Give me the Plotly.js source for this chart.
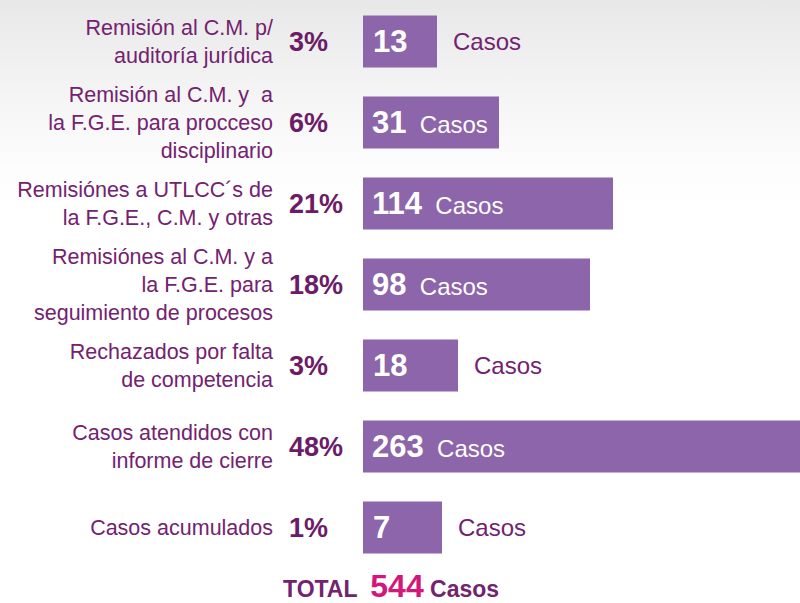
<!DOCTYPE html>
<html>
<head>
<meta charset="utf-8">
<script src="https://cdn.plot.ly/plotly-3.0.1.min.js"></script>
<style>
  html, body { margin:0; padding:0; }
  body { width:800px; height:603px; overflow:hidden;
         background: linear-gradient(to bottom, #e8e8e8 0px, #f4f4f4 90px, #fdfdfd 170px, #ffffff 220px, #ffffff 603px); }
  #chart { width:800px; height:603px; }
</style>
</head>
<body>
<div id="chart"></div>
<script>
// ---- data ----
const categorias = [
  "Remisión al C.M. p/<br>auditoría jurídica",
  "Remisión al C.M. y  a<br>la F.G.E. para procceso<br>disciplinario",
  "Remisiónes a UTLCC´s de<br>la F.G.E., C.M. y otras",
  "Remisiónes al C.M. y a<br>la F.G.E. para<br>seguimiento de procesos",
  "Rechazados por falta<br>de competencia",
  "Casos atendidos con<br>informe de cierre",
  "Casos acumulados"
];
const casos = [13, 31, 114, 98, 18, 263, 7];
const porcentajes = [3, 6, 21, 18, 3, 48, 1];
// drawn bar lengths as they appear in the infographic (not proportional to casos)
const longitudBarra = [74, 136, 250, 227, 95, 460, 79];

// ---- styles ----
const FONT = '"Liberation Sans", Arial, sans-serif';
const barColor = '#8c65aa';
const purple = '#732270';
const purpleDark = '#6c1b66';
const pink = '#d4187b';

const trace = {
  type: 'bar',
  orientation: 'h',
  y: categorias,
  x: longitudBarra,
  marker: { color: barColor, line: { width: 0 } },
  width: 0.64,
  hoverinfo: 'skip',
  cliponaxis: true
};

const annotations = [];
categorias.forEach((c, i) => {
  annotations.push({
    xref: 'paper', yref: 'y', x: 287 / 800, y: c,
    xanchor: 'left', yanchor: 'middle',
    text: '<b>' + porcentajes[i] + '%</b>',
    showarrow: false,
    font: { family: FONT, size: 27, color: purpleDark }
  });
  const inside = longitudBarra[i] > 120;
  if (inside) {
    annotations.push({
      xref: 'x', yref: 'y', x: 0, y: c, xanchor: 'left', yanchor: 'middle', xshift: 7,
      text: '<span style="font-size:31px;font-weight:bold">' + casos[i] + '</span>\u00a0\u00a0Casos',
      showarrow: false,
      font: { family: FONT, size: 24, color: '#ffffff' }
    });
  } else {
    annotations.push({
      xref: 'x', yref: 'y', x: 0, y: c, xanchor: 'left', yanchor: 'middle', xshift: 8,
      text: '<b>' + casos[i] + '</b>',
      showarrow: false,
      font: { family: FONT, size: 31, color: '#ffffff' }
    });
    annotations.push({
      xref: 'x', yref: 'y', x: longitudBarra[i], y: c, xanchor: 'left', yanchor: 'middle', xshift: 14,
      text: 'Casos',
      showarrow: false,
      font: { family: FONT, size: 24, color: purple }
    });
  }
});

const total = casos.reduce((a, b) => a + b, 0);
annotations.push({
  xref: 'paper', yref: 'paper', x: 391 / 800, y: -0.031,
  xanchor: 'center', yanchor: 'middle',
  text: '<b>TOTAL\u00a0\u00a0<span style="color:' + pink + ';font-size:32px">' + total + '</span>\u00a0Casos</b>',
  showarrow: false,
  font: { family: FONT, size: 23, color: purple }
});

const layout = {
  width: 800, height: 603,
  margin: { l: 0, r: 0, t: 1, b: 35, pad: 0 },
  paper_bgcolor: 'rgba(0,0,0,0)',
  plot_bgcolor: 'rgba(0,0,0,0)',
  showlegend: false,
  xaxis: {
    domain: [363 / 800, 1],
    range: [0, 437],
    visible: false,
    fixedrange: true
  },
  yaxis: {
    type: 'category',
    autorange: 'reversed',
    showgrid: false, zeroline: false, showline: false,
    ticks: '',
    ticklabelstandoff: 89,
    tickfont: { family: FONT, size: 21.5, color: purple },
    automargin: false,
    fixedrange: true
  },
  annotations: annotations
};

Plotly.newPlot('chart', [trace], layout, { displayModeBar: false, staticPlot: true });
</script>
</body>
</html>
